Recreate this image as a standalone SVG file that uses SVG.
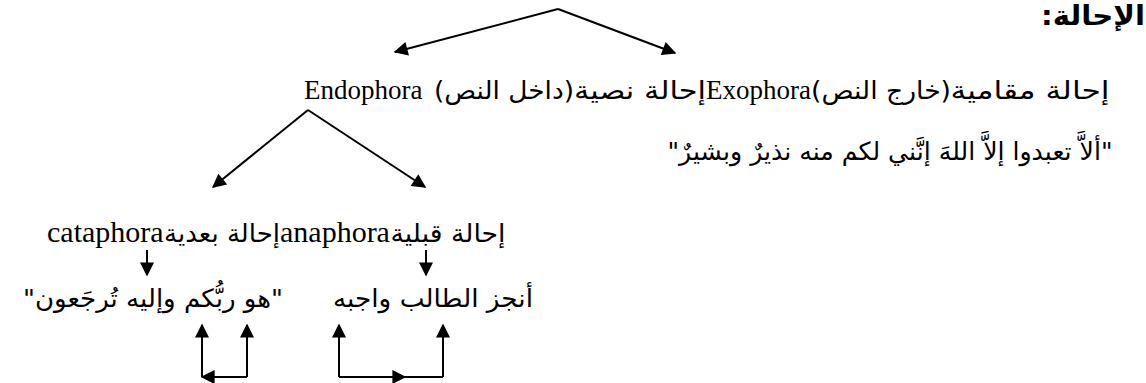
<svg xmlns="http://www.w3.org/2000/svg" width="1146" height="383" viewBox="0 0 1146 383">
<defs>
<marker id="ah" viewBox="0 0 10 10" refX="9" refY="5" markerUnits="userSpaceOnUse" markerWidth="16" markerHeight="14" orient="auto">
<path d="M0,0 L10,5 L0,10 z" fill="#000"/>
</marker>
</defs>
<style>
.lat{font-family:"Liberation Serif","Times New Roman",serif;fill:#000;}
.ar{font-family:"DejaVu Sans",sans-serif;fill:#000;font-size:25px;}
.cn{stroke:#000;stroke-width:2;fill:none;}
.arw{marker-end:url(#ah);}
</style>
<rect width="1146" height="383" fill="#fff"/>
<g id="title">
<text class="ar" x="1093" y="25" style="font-size:27px" font-weight="bold" text-anchor="middle" direction="rtl" textLength="104" lengthAdjust="spacingAndGlyphs">الإحالة:</text>
</g>
<g id="row1">
<text class="lat" x="304" y="99" font-size="27">Endophora</text>
<text class="ar" x="504" y="99" text-anchor="middle" textLength="140" lengthAdjust="spacingAndGlyphs">(داخل النص)</text>
<text class="ar" x="640" y="99" text-anchor="middle" textLength="132" lengthAdjust="spacingAndGlyphs">إحالة نصية</text>
<text class="lat" x="706" y="99" font-size="27">Exophora</text>
<text class="ar" x="881" y="99" text-anchor="middle" textLength="140" lengthAdjust="spacingAndGlyphs">(خارج النص)</text>
<text class="ar" x="1030" y="99" text-anchor="middle" textLength="159" lengthAdjust="spacingAndGlyphs">إحالة مقامية</text>
</g>
<g id="quote1">
<text class="ar" x="890" y="160" text-anchor="middle" textLength="445" lengthAdjust="spacingAndGlyphs">"ألاَّ تعبدوا إلاَّ اللهَ إنَّني لكم منه نذيرٌ وبشيرٌ"</text>
</g>
<g id="row3">
<text class="lat" x="47" y="242" font-size="30">cataphora</text>
<text class="ar" x="222" y="242" text-anchor="middle" textLength="116" lengthAdjust="spacingAndGlyphs">إحالة بعدية</text>
<text class="lat" x="280" y="242" font-size="30">anaphora</text>
<text class="ar" x="448" y="242" text-anchor="middle" textLength="115" lengthAdjust="spacingAndGlyphs">إحالة قبلية</text>
</g>
<g id="examples">
<text class="ar" x="153" y="307" text-anchor="middle" textLength="260" lengthAdjust="spacingAndGlyphs">"هو ربُّكم وإليه تُرجَعون"</text>
<text class="ar" x="433" y="307" text-anchor="middle" textLength="200" lengthAdjust="spacingAndGlyphs">أنجز الطالب واجبه</text>
</g>
<g id="connectors">
<line class="cn arw" x1="558" y1="9" x2="395" y2="52"/>
<line class="cn arw" x1="558" y1="9" x2="675" y2="53"/>
<line class="cn arw" x1="308" y1="110" x2="213" y2="187"/>
<line class="cn arw" x1="308" y1="110" x2="425" y2="187"/>
<line class="cn arw" x1="147" y1="250" x2="147" y2="275"/>
<line class="cn arw" x1="426" y1="250" x2="426" y2="275"/>
<line class="cn arw" x1="202" y1="377" x2="202" y2="325"/>
<line class="cn arw" x1="247" y1="377" x2="247" y2="325"/>
<line class="cn arw" x1="247" y1="377" x2="202" y2="377"/>
<line class="cn arw" x1="339" y1="377" x2="339" y2="325"/>
<line class="cn arw" x1="443" y1="377" x2="443" y2="325"/>
<line class="cn arw" x1="339" y1="377" x2="405" y2="377"/>
<line class="cn" x1="405" y1="377" x2="443" y2="377"/>
</g>
</svg>
